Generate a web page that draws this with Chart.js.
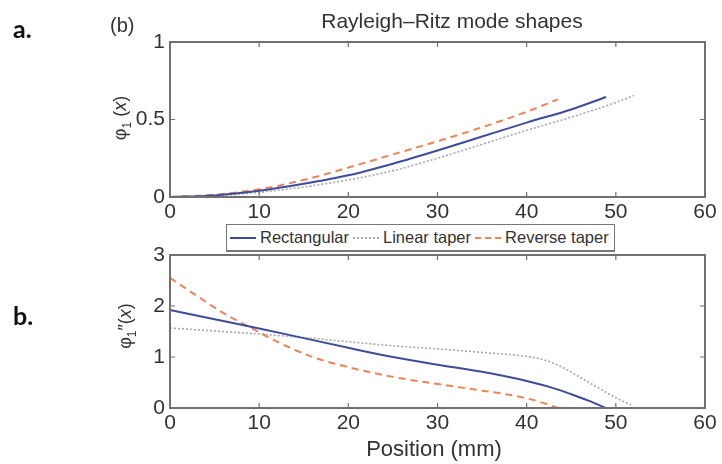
<!DOCTYPE html>
<html>
<head>
<meta charset="utf-8">
<script src="https://cdn.jsdelivr.net/npm/chart.js@4"></script>
<style>
  html, body { margin: 0; padding: 0; background: #fff; }
  body { width: 722px; height: 464px; position: relative; overflow: hidden;
         font-family: "Liberation Sans", Arial, sans-serif; color: #333; }
  canvas { position: absolute; left: 0; }
  #c1 { top: 0; }
  #c2 { top: 232px; }
  .txt { position: absolute; white-space: nowrap; line-height: 1; }
  .panel { font-family: Lato, "Liberation Sans", sans-serif; font-weight: bold; font-size: 25px; color: #111; }
  .ytitle { font-size: 18px; transform: translate(-50%, -50%) rotate(-90deg); }
  .legend { position: absolute; left: 226px; top: 224px; height: 25px; background: #fff;
            border: 1px solid #777; border-bottom: 2px solid #777; display: flex; align-items: center;
            font-size: 16.5px; padding: 0 5px 0 3px; }
  .legend .item { display: flex; align-items: center; margin-right: 4px; }
  .legend .item:last-child { margin-right: 0; }
  .legend .sw { width: 26px; height: 0; margin-right: 4px; }
</style>
</head>
<body>
<canvas id="c1" width="722" height="232"></canvas>
<canvas id="c2" width="722" height="232"></canvas>

<div class="txt panel" style="left:13px; top:16px;">a.</div>
<div class="txt panel" style="left:13px; top:303px;">b.</div>
<div class="txt" style="left:110px; top:15px; font-size:20px;">(b)</div>
<div class="txt" style="left:452px; top:10px; font-size:21px; transform:translateX(-50%);">Rayleigh–Ritz mode shapes</div>
<div class="txt ytitle" style="left:122px; top:118px;">φ<sub style="font-size:12px">1</sub> (<i>x</i>)</div>
<div class="txt ytitle" style="left:127px; top:326px;">φ<sub style="font-size:12px">1</sub>″(<i>x</i>)</div>
<div class="txt" style="left:434px; top:438px; font-size:22px; transform:translateX(-50%);">Position (mm)</div>

<div class="legend">
  <div class="item"><span class="sw" style="border-top:2px solid #3d4c9c"></span>Rectangular</div>
  <div class="item"><span class="sw" style="border-top:2px dotted #a8a8a8"></span>Linear taper</div>
  <div class="item"><span class="sw" style="border-top:2px dashed #ee8456"></span>Reverse taper</div>
</div>

<script>
// Tick values
const xTickValues = [0, 10, 20, 30, 40, 50, 60];
const shapeTickValues = [0, 0.5, 1];
const curvTickValues = [0, 1, 2, 3];

// Mode shape phi_1(x)
const posShapeRect = [0, 5, 10, 15, 20, 25, 30, 35, 40, 45, 48.9];
const shapeRect    = [0, 0.01, 0.04, 0.085, 0.14, 0.215, 0.30, 0.39, 0.48, 0.565, 0.645];
const posShapeLin  = [0, 5, 10, 15, 20, 25, 30, 35, 40, 45, 50, 52];
const shapeLin     = [0, 0.008, 0.03, 0.065, 0.11, 0.17, 0.25, 0.34, 0.43, 0.515, 0.61, 0.655];
const posShapeRev  = [0, 5, 10, 15, 20, 25, 30, 35, 40, 43.5];
const shapeRev     = [0, 0.015, 0.05, 0.11, 0.19, 0.275, 0.36, 0.45, 0.55, 0.63];

// Second derivative phi_1''(x)
const posCurvRect = [0, 5, 10, 15, 20, 25, 30, 35, 40, 43, 45, 47, 48.9];
const curvRect    = [1.92, 1.74, 1.56, 1.37, 1.18, 1.0, 0.85, 0.71, 0.53, 0.39, 0.27, 0.14, 0];
const posCurvLin  = [0, 5, 10, 15, 20, 25, 30, 35, 40, 42, 44, 46, 48, 50, 51.7];
const curvLin     = [1.57, 1.51, 1.45, 1.38, 1.30, 1.22, 1.16, 1.09, 1.01, 0.94, 0.80, 0.60, 0.40, 0.20, 0.06];
const posCurvRev  = [0, 3, 6, 9, 12, 16, 20, 25, 30, 35, 38, 40, 42, 43.5];
const curvRev     = [2.55, 2.2, 1.86, 1.58, 1.30, 1.0, 0.80, 0.61, 0.47, 0.34, 0.26, 0.19, 0.09, 0];

const seriesNames = ['Rectangular', 'Linear taper', 'Reverse taper'];

const FONT = '"Liberation Sans", Arial, sans-serif';
const pts = (xs, ys) => xs.map((x, i) => ({ x, y: ys[i] }));

const styles = [
  { borderColor: '#3d4c9c', borderWidth: 2, borderDash: [] },
  { borderColor: '#a8a8a8', borderWidth: 1.6, borderDash: [2, 2] },
  { borderColor: '#ee8456', borderWidth: 2, borderDash: [7, 5] }
];

function makeDatasets(groups) {
  return groups.map((g, i) => Object.assign({
    label: seriesNames[i],
    data: pts(g[0], g[1]),
    pointRadius: 0,
    fill: false,
    tension: 0.4,
    cubicInterpolationMode: 'monotone',
    clip: 4
  }, styles[i]));
}

// Boxed frame with inward ticks on all four sides
const boxFrame = {
  id: 'boxFrame',
  afterDatasetsDraw(chart) {
    const { ctx, chartArea: a, scales: { x, y } } = chart;
    ctx.save();
    ctx.strokeStyle = '#707070';
    ctx.lineWidth = 2;
    ctx.strokeRect(a.left, a.top, a.right - a.left, a.bottom - a.top);
    ctx.lineWidth = 1.2;
    ctx.beginPath();
    const len = 5;
    x.ticks.forEach(t => {
      const px = x.getPixelForValue(t.value);
      if (px <= a.left + 1 || px >= a.right - 1) return;
      ctx.moveTo(px, a.bottom); ctx.lineTo(px, a.bottom - len);
      ctx.moveTo(px, a.top); ctx.lineTo(px, a.top + len);
    });
    y.ticks.forEach(t => {
      const py = y.getPixelForValue(t.value);
      if (py >= a.bottom - 1 || py <= a.top + 1) return;
      ctx.moveTo(a.left, py); ctx.lineTo(a.left + len, py);
      ctx.moveTo(a.right, py); ctx.lineTo(a.right - len, py);
    });
    ctx.stroke();
    ctx.restore();
  }
};

function makeChart(id, datasets, yMax, yTicks, padBottom) {
  return new Chart(document.getElementById(id), {
    type: 'line',
    data: { datasets },
    plugins: [boxFrame],
    options: {
      responsive: false,
      animation: false,
      events: [],
      layout: { padding: { left: 110, right: 17, top: padBottom ? 23 : 42, bottom: padBottom } },
      plugins: { legend: { display: false }, tooltip: { enabled: false }, title: { display: false } },
      scales: {
        x: {
          type: 'linear', min: 0, max: 60,
          afterBuildTicks: s => { s.ticks = xTickValues.map(v => ({ value: v })); },
          afterFit: s => { s.height = 35; },
          grid: { display: false, drawTicks: false },
          border: { display: false },
          ticks: { padding: 3, color: '#333', font: { family: FONT, size: 21 }, maxRotation: 0,
                   callback: v => String(v) }
        },
        y: {
          type: 'linear', min: 0, max: yMax,
          afterBuildTicks: s => { s.ticks = yTicks.map(v => ({ value: v })); },
          afterFit: s => { s.width = 60; },
          grid: { display: false, drawTicks: false },
          border: { display: false },
          ticks: { padding: 5, color: '#333', font: { family: FONT, size: 21 },
                   callback: v => String(v) }
        }
      }
    }
  });
}

makeChart('c1', makeDatasets([[posShapeRect, shapeRect], [posShapeLin, shapeLin], [posShapeRev, shapeRev]]),
          1, shapeTickValues, 0);
makeChart('c2', makeDatasets([[posCurvRect, curvRect], [posCurvLin, curvLin], [posCurvRev, curvRev]]),
          3, curvTickValues, 21);
</script>
</body>
</html>
